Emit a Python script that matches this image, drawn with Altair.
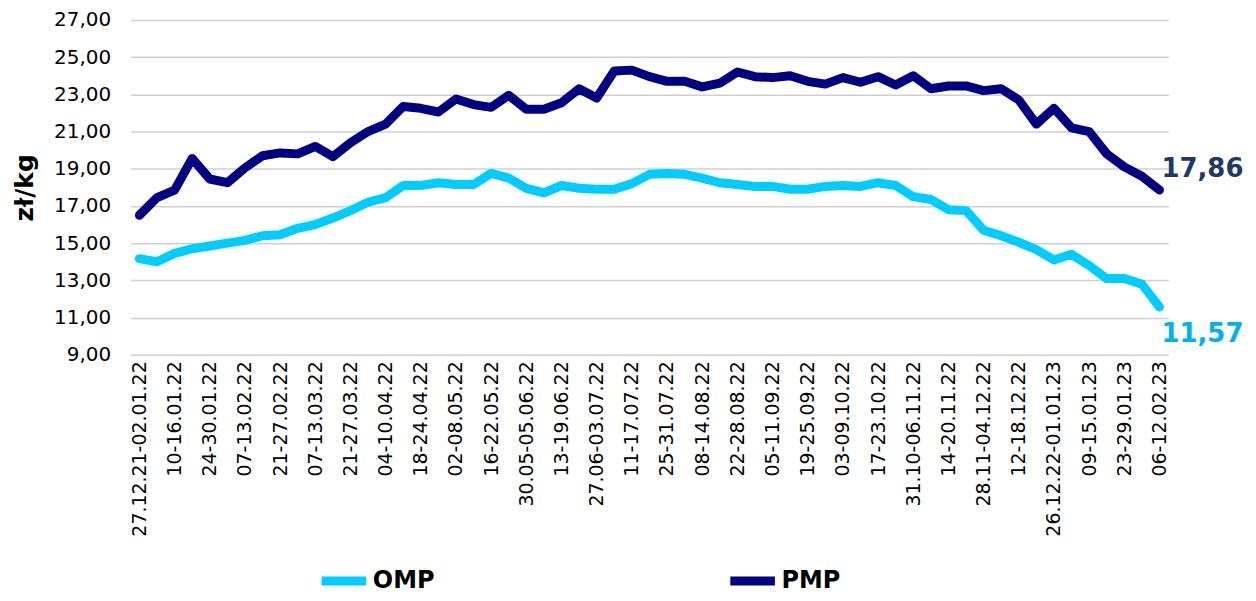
import altair as alt
import pandas as pd

weeks = [
    "27.12.21-02.01.22", "03-09.01.22", "10-16.01.22", "17-23.01.22", "24-30.01.22",
    "31.01-06.02.22", "07-13.02.22", "14-20.02.22", "21-27.02.22", "28.02-06.03.22",
    "07-13.03.22", "14-20.03.22", "21-27.03.22", "28.03-03.04.22", "04-10.04.22",
    "11-17.04.22", "18-24.04.22", "25.04-01.05.22", "02-08.05.22", "09-15.05.22",
    "16-22.05.22", "23-29.05.22", "30.05-05.06.22", "06-12.06.22", "13-19.06.22",
    "20-26.06.22", "27.06-03.07.22", "04-10.07.22", "11-17.07.22", "18-24.07.22",
    "25-31.07.22", "01-07.08.22", "08-14.08.22", "15-21.08.22", "22-28.08.22",
    "29.08-04.09.22", "05-11.09.22", "12-18.09.22", "19-25.09.22", "26.09-02.10.22",
    "03-09.10.22", "10-16.10.22", "17-23.10.22", "24-30.10.22", "31.10-06.11.22",
    "07-13.11.22", "14-20.11.22", "21-27.11.22", "28.11-04.12.22", "05-11.12.22",
    "12-18.12.22", "19-25.12.22", "26.12.22-01.01.23", "02-08.01.23", "09-15.01.23",
    "16-22.01.23", "23-29.01.23", "30.01-05.02.23", "06-12.02.23",
]

omp = [
    14.17, 14.00, 14.45, 14.70, 14.85, 15.00, 15.15, 15.40, 15.45, 15.80,
    16.00, 16.35, 16.75, 17.20, 17.45, 18.10, 18.10, 18.25, 18.15, 18.15,
    18.75, 18.50, 17.95, 17.70, 18.10, 17.95, 17.90, 17.90, 18.20, 18.70,
    18.75, 18.70, 18.50, 18.25, 18.15, 18.05, 18.05, 17.90, 17.90, 18.05,
    18.10, 18.05, 18.25, 18.10, 17.50, 17.35, 16.80, 16.75, 15.70, 15.40,
    15.05, 14.65, 14.10, 14.40, 13.80, 13.10, 13.10, 12.80, 11.57,
]

pmp = [
    16.50, 17.45, 17.85, 19.55, 18.45, 18.25, 19.05, 19.70, 19.85, 19.80,
    20.20, 19.65, 20.40, 21.00, 21.40, 22.35, 22.25, 22.05, 22.75, 22.45,
    22.30, 22.95, 22.20, 22.20, 22.55, 23.30, 22.80, 24.25, 24.30, 23.95,
    23.70, 23.70, 23.40, 23.60, 24.20, 23.95, 23.90, 24.00, 23.70, 23.55,
    23.90, 23.65, 23.95, 23.50, 24.00, 23.30, 23.45, 23.45, 23.20, 23.30,
    22.70, 21.40, 22.25, 21.20, 21.00, 19.80, 19.10, 18.60, 17.86,
]

series_names = ["OMP", "PMP"]
y_ticks = [9, 11, 13, 15, 17, 19, 21, 23, 25, 27]

df = pd.concat([
    pd.DataFrame({"week": weeks, "value": omp, "series": series_names[0]}),
    pd.DataFrame({"week": weeks, "value": pmp, "series": series_names[1]}),
], ignore_index=True)

FONT = "DejaVu Sans"

x_enc = alt.X(
    "week:O", sort=weeks,
    scale=alt.Scale(type="point", padding=0.5),
    axis=alt.Axis(
        title=None, values=weeks[::2], labelAngle=270, labelFont=FONT,
        labelFontSize=19, labelColor="#000000", labelPadding=6,
        ticks=False, domainColor="#D9D9D9", domainWidth=2, grid=False,
        labelOverlap=False,
    ),
)
y_enc = alt.Y(
    "value:Q",
    scale=alt.Scale(domain=[9, 27], nice=False, zero=False),
    axis=alt.Axis(
        title="zł/kg", titleFont=FONT, titleFontSize=25, titleFontWeight="bold",
        titleColor="#000000", titlePadding=16,
        values=y_ticks, tickCount=10, labelOverlap=False,
        labelFont=FONT, labelFontSize=20, labelColor="#000000",
        labelPadding=20, labelExpr="replace(format(datum.value, '.2f'), '.', ',')",
        ticks=False, domain=False, gridColor="#D0D0D0", gridWidth=1.5,
    ),
)

lines = alt.Chart().mark_line(strokeWidth=9, strokeCap="round", strokeJoin="round").encode(
    color=alt.Color(
        "series:N",
        scale=alt.Scale(domain=series_names, range=["#00CCFF", "#000080"]),
        legend=alt.Legend(
            title=None, orient="none", legendX=187, legendY=536,
            direction="horizontal", symbolType="stroke", symbolSize=2000,
            symbolStrokeWidth=9, labelFont=FONT, labelFontSize=24,
            labelFontWeight="bold", labelColor="#000000", labelOffset=2,
            columnPadding=278,
        ),
    ),
)

lbl_pmp = alt.Chart().transform_filter(
    (alt.datum.week == weeks[-1]) & (alt.datum.series == series_names[1])
).transform_calculate(
    txt="replace(format(datum.value, '.2f'), '.', ',')"
).mark_text(
    align="left", baseline="middle", dx=2, dy=-21, font=FONT, fontSize=26,
    fontWeight="bold", color="#1F3864",
).encode(text="txt:N")

lbl_omp = alt.Chart().transform_filter(
    (alt.datum.week == weeks[-1]) & (alt.datum.series == series_names[0])
).transform_calculate(
    txt="replace(format(datum.value, '.2f'), '.', ',')"
).mark_text(
    align="left", baseline="middle", dx=2, dy=27, font=FONT, fontSize=26,
    fontWeight="bold", color="#00B0F0",
).encode(text="txt:N")

chart = alt.layer(lines, lbl_pmp, lbl_omp, data=df).encode(
    x=x_enc, y=y_enc
).properties(
    width=1041, height=336,
    autosize=alt.AutoSizeParams(type="none"),
    padding={"left": 123, "top": 11, "right": 80, "bottom": 238},
).configure_view(stroke=None)

chart.save("out.html", embed_options={"renderer": "svg", "actions": False})
